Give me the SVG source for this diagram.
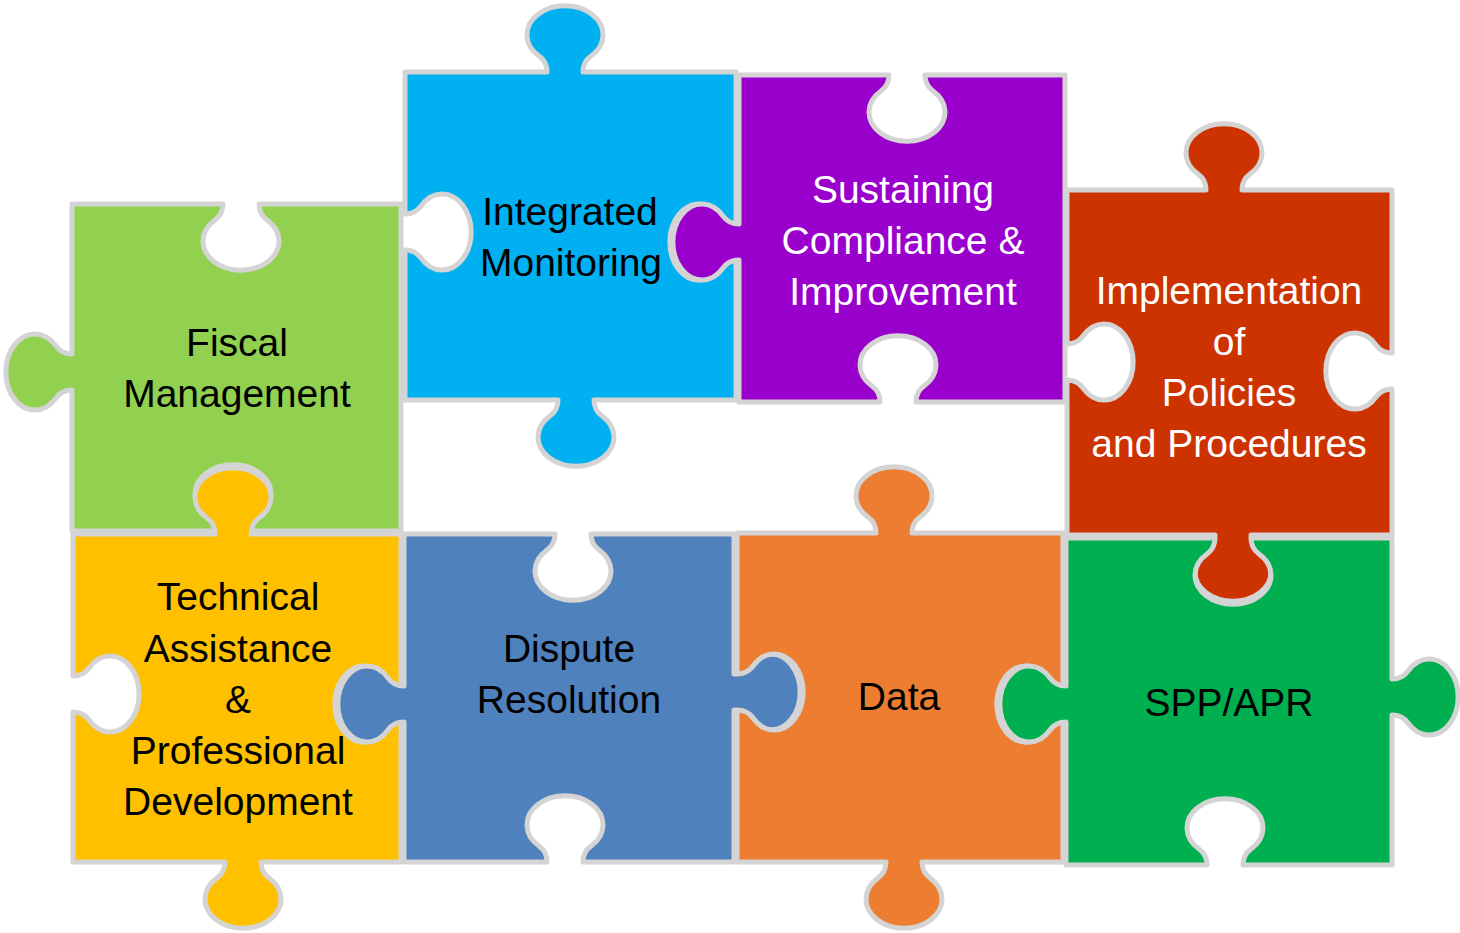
<svg xmlns="http://www.w3.org/2000/svg" width="1460" height="933" viewBox="0 0 1460 933">
  <style>
    .piece { stroke: #d4d4d4; stroke-width: 5; stroke-linejoin: round; }
    .label { font-family: "Liberation Sans", Arial, sans-serif; font-size: 39px; text-anchor: middle; fill: #000000; }
    .label.light { fill: #ffffff; }
  </style>
  <rect width="1460" height="933" fill="#ffffff"/>

  <!-- Each piece: a square outline traced clockwise, with a round knob (tab) or socket (hole) on some edges. -->

  <!-- Top row -->
  <g id="fiscal-management">
    <path class="piece" fill="#92d050" d="M72,204 L223,204 c0,5 -2,11.7 -8,16 a38,29 0 1,0 52,0 c-6,-4.3 -8,-11 -8,-16 L401,204 L401,531 L251,531 c0,-5 2,-11.7 8,-16 a38,29 0 1,0 -52,0 c6,4.3 8,11 8,16 L72,531 L72,390 c-5,0 -11.7,2 -16,8 a29,38 0 1,1 0,-52 c4.3,6 11,8 16,8 Z"/>
    <text class="label" x="237" y="356">Fiscal</text>
    <text class="label" x="237" y="407">Management</text>
  </g>

  <g id="integrated-monitoring">
    <path class="piece" fill="#00b0f0" d="M405,72 L547,72 c0,-5 -2,-11.7 -8,-16 a38,29 0 1,1 52,0 c-6,4.3 -8,11 -8,16 L736,72 L736,224 c-5,0 -11.7,-2 -16,-8 a29,38 0 1,0 0,52 c4.3,-6 11,-8 16,-8 L736,400 L594,400 c0,5 2,11.7 8,16 a38,29 0 1,1 -52,0 c6,-4.3 8,-11 8,-16 L405,400 L405,250 c5,0 11.7,2 16,8 a29,38 0 1,0 0,-52 c-4.3,6 -11,8 -16,8 Z"/>
    <text class="label" x="570" y="225">Integrated</text>
    <text class="label" x="571" y="276">Monitoring</text>
  </g>

  <g id="sustaining-compliance">
    <path class="piece" fill="#9900cc" d="M739,75 L889,75 c0,5 -2,11.7 -8,16 a38,29 0 1,0 52,0 c-6,-4.3 -8,-11 -8,-16 L1065,75 L1065,402 L916,402 c0,-5 2,-11.7 8,-16 a38,29 0 1,0 -52,0 c6,4.3 8,11 8,16 L739,402 L739,260 c-5,0 -11.7,2 -16,8 a29,38 0 1,1 0,-52 c4.3,6 11,8 16,8 Z"/>
    <text class="label light" x="903" y="203">Sustaining</text>
    <text class="label light" x="903" y="254">Compliance &amp;</text>
    <text class="label light" x="903" y="305">Improvement</text>
  </g>

  <g id="policies-procedures">
    <path class="piece" fill="#cc3300" d="M1067,190 L1206,190 c0,-5 -2,-11.7 -8,-16 a38,29 0 1,1 52,0 c-6,4.3 -8,11 -8,16 L1392,190 L1392,353 c-5,0 -11.7,-2 -16,-8 a29,38 0 1,0 0,52 c4.3,-6 11,-8 16,-8 L1392,535 L1251,535 c0,5 2,11.7 8,16 a38,29 0 1,1 -52,0 c6,-4.3 8,-11 8,-16 L1067,535 L1067,380 c5,0 11.7,2 16,8 a29,38 0 1,0 0,-52 c-4.3,6 -11,8 -16,8 Z"/>
    <text class="label light" x="1229" y="304">Implementation</text>
    <text class="label light" x="1229" y="355">of</text>
    <text class="label light" x="1229" y="406">Policies</text>
    <text class="label light" x="1229" y="457">and Procedures</text>
  </g>

  <!-- Bottom row -->
  <g id="technical-assistance">
    <path class="piece" fill="#ffc000" d="M73,534 L215,534 c0,-5 -2,-11.7 -8,-16 a38,29 0 1,1 52,0 c-6,4.3 -8,11 -8,16 L401,534 L401,686 c-5,0 -11.7,-2 -16,-8 a29,38 0 1,0 0,52 c4.3,-6 11,-8 16,-8 L401,862 L261,862 c0,5 2,11.7 8,16 a38,29 0 1,1 -52,0 c6,-4.3 8,-11 8,-16 L73,862 L73,712 c5,0 11.7,2 16,8 a29,38 0 1,0 0,-52 c-4.3,6 -11,8 -16,8 Z"/>
    <text class="label" x="238" y="610">Technical</text>
    <text class="label" x="238" y="662">Assistance</text>
    <text class="label" x="238" y="713">&amp;</text>
    <text class="label" x="238" y="764">Professional</text>
    <text class="label" x="238" y="815">Development</text>
  </g>

  <g id="dispute-resolution">
    <path class="piece" fill="#4f81bd" d="M404,534 L555,534 c0,5 -2,11.7 -8,16 a38,29 0 1,0 52,0 c-6,-4.3 -8,-11 -8,-16 L734,534 L734,674 c5,0 11.7,-2 16,-8 a29,38 0 1,1 0,52 c-4.3,-6 -11,-8 -16,-8 L734,862 L583,862 c0,-5 2,-11.7 8,-16 a38,29 0 1,0 -52,0 c6,4.3 8,11 8,16 L404,862 L404,722 c-5,0 -11.7,2 -16,8 a29,38 0 1,1 0,-52 c4.3,6 11,8 16,8 Z"/>
    <text class="label" x="569" y="662">Dispute</text>
    <text class="label" x="569" y="713">Resolution</text>
  </g>

  <g id="data">
    <path class="piece" fill="#ed7d31" d="M737,533 L876,533 c0,-5 -2,-11.7 -8,-16 a38,29 0 1,1 52,0 c-6,4.3 -8,11 -8,16 L1063,533 L1063,686 c-5,0 -11.7,-2 -16,-8 a29,38 0 1,0 0,52 c4.3,-6 11,-8 16,-8 L1063,862 L922,862 c0,5 2,11.7 8,16 a38,29 0 1,1 -52,0 c6,-4.3 8,-11 8,-16 L737,862 L737,710 c5,0 11.7,2 16,8 a29,38 0 1,0 0,-52 c-4.3,6 -11,8 -16,8 Z"/>
    <text class="label" x="899" y="710">Data</text>
  </g>

  <g id="spp-apr">
    <path class="piece" fill="#00b050" d="M1066,538 L1215,538 c0,5 -2,11.7 -8,16 a38,29 0 1,0 52,0 c-6,-4.3 -8,-11 -8,-16 L1392,538 L1392,679 c5,0 11.7,-2 16,-8 a29,38 0 1,1 0,52 c-4.3,-6 -11,-8 -16,-8 L1392,865 L1243,865 c0,-5 2,-11.7 8,-16 a38,29 0 1,0 -52,0 c6,4.3 8,11 8,16 L1066,865 L1066,722 c-5,0 -11.7,2 -16,8 a29,38 0 1,1 0,-52 c4.3,6 11,8 16,8 Z"/>
    <text class="label" x="1229" y="716">SPP/APR</text>
  </g>

  <!-- The pieces simply abut; there are no connector lines. -->
  <g id="connectors"/>
</svg>
